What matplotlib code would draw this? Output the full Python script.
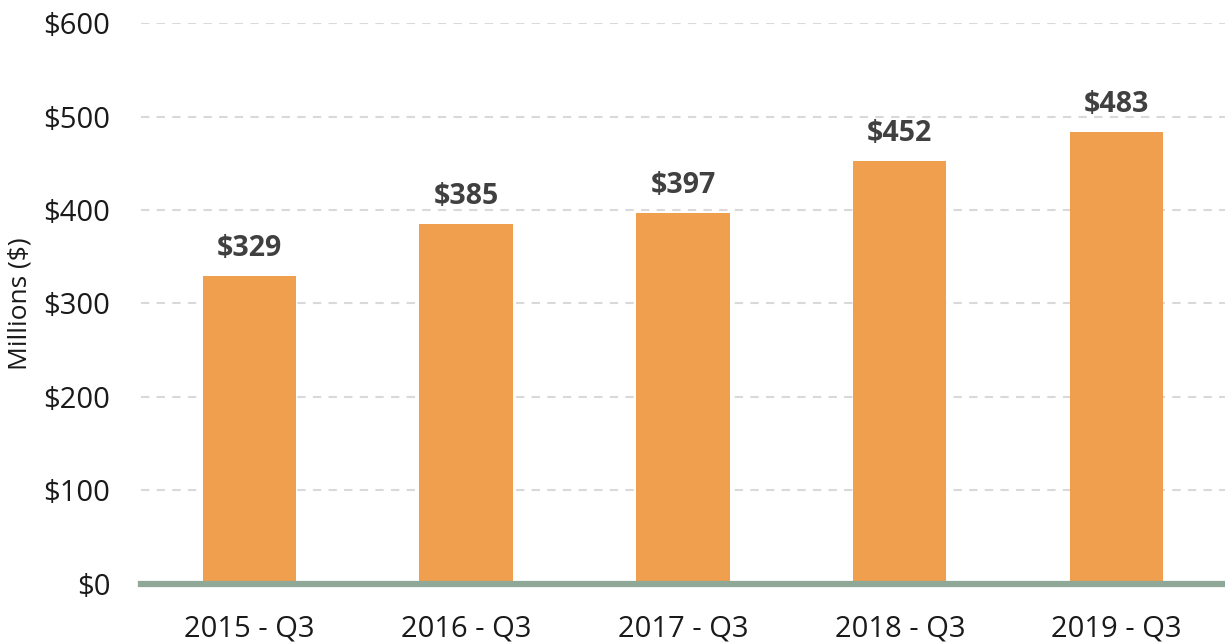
import matplotlib
matplotlib.use("Agg")
import matplotlib.pyplot as plt

categories = ["2015 - Q3", "2016 - Q3", "2017 - Q3", "2018 - Q3", "2019 - Q3"]
values = [329, 385, 397, 452, 483]
yticks = [0, 100, 200, 300, 400, 500, 600]
ytick_labels = ["$0", "$100", "$200", "$300", "$400", "$500", "$600"]

plt.rcParams['font.family'] = ['Open Sans', 'DejaVu Sans']

fig = plt.figure(figsize=(12.25, 6.43), dpi=100)
ax = fig.add_axes([0.115, 0.0918, 0.885, 0.8724])

x = list(range(len(categories)))
bars = ax.bar(x, values, width=0.43, color="#EF9F4E", zorder=3)

for xi, v in zip(x, values):
    ax.annotate(f"${v}", (xi, v), xytext=(0, 9.5), textcoords="offset points",
                ha="center", va="bottom", fontsize=20.5, fontweight="bold", color="#404040")

ax.set_xlim(-0.5, len(categories) - 0.5)
ax.set_ylim(0, 600)
ax.set_yticks(yticks)
ax.set_yticklabels(ytick_labels)
ax.set_xticks(x)
ax.set_xticklabels(categories)
ax.tick_params(axis="both", length=0, labelsize=21, colors="#1a1a1a")
ax.tick_params(axis="y", pad=22)
ax.tick_params(axis="x", pad=22)

for y in yticks[1:]:
    ax.axhline(y, color="#d9d9d9", lw=1.5, ls=(0, (4, 3.5)), zorder=1)

for s in ["top", "right", "left"]:
    ax.spines[s].set_visible(False)
ax.spines["bottom"].set_color("#8FA898")
ax.spines["bottom"].set_linewidth(4.5)
ax.spines["bottom"].set_zorder(4)

ax.set_ylabel("Millions ($)", fontsize=19, color="#1a1a1a", labelpad=8)

fig.savefig("out.png", dpi=100)
